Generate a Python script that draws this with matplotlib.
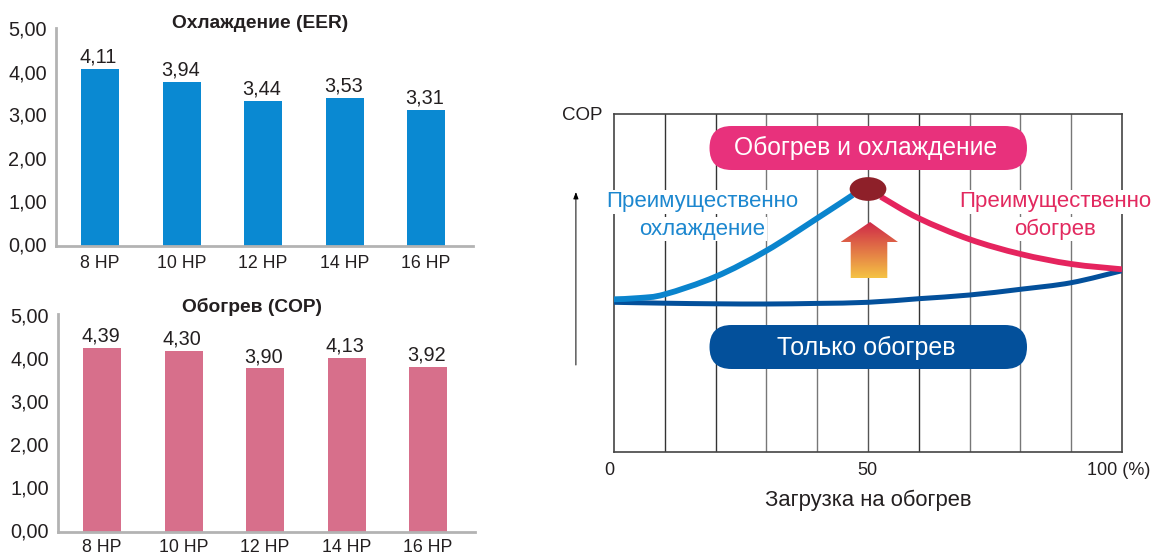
import numpy as np
import matplotlib
matplotlib.use("Agg")
import matplotlib.pyplot as plt
from matplotlib.patches import FancyBboxPatch, Ellipse, Polygon, PathPatch
from matplotlib.path import Path

plt.rcParams['font.family'] = ['Liberation Sans', 'DejaVu Sans']

W, H = 1154, 554
TEXT = '#231f20'

# --- bar charts ---
categories = ['8 HP', '10 HP', '12 HP', '14 HP', '16 HP']
y_ticks = [0, 1, 2, 3, 4, 5]
y_tick_labels = ['0,00', '1,00', '2,00', '3,00', '4,00', '5,00']

# bar heights as drawn (they do not quite follow the printed labels)
eer_heights = [4.11, 3.81, 3.37, 3.44, 3.16]
eer_labels = ['4,11', '3,94', '3,44', '3,53', '3,31']
cop_heights = [4.28, 4.21, 3.81, 4.05, 3.84]
cop_labels = ['4,39', '4,30', '3,90', '4,13', '3,92']

# --- COP curves: load % and height above the bottom of the frame ---
cool_x = [0, 5, 10, 20, 30, 40, 47]
cool_y = [152.7, 154, 157.7, 175.3, 201.3, 233.7, 257]
heat_x = [52.5, 60, 70, 80, 90, 100]
heat_y = [255.3, 233.7, 212.7, 198, 188, 182.7]
only_x = [0, 10, 20, 30, 40, 50, 60, 70, 80, 90, 100]
only_y = [149.7, 148.8, 148.2, 148, 148.6, 149.7, 153.3, 157, 162.7, 169.3, 181.3]
frame_grid = [10, 20, 30, 40, 50, 60, 70, 80, 90]
grid_colors = ['#333333', '#333333', '#777777', '#777777', '#555555',
               '#333333', '#777777', '#777777', '#777777']
load_ticks = ['0', '50', '100 (%)']


def px_axes(left, right, top, bottom):
    # axes from pixel box of the picture
    return plt.gcf().add_axes([left / W, 1 - bottom / H, (right - left) / W, (bottom - top) / H])


def bar_panel(left, right, top, zero, first, heights, labels, color, title, title_x, title_y, xpad):
    ax = px_axes(left, right, top, zero)
    step = 81.5
    ax.set_xlim(-(first - left) / step, (right - first) / step)
    ax.set_ylim(0, (zero - top) / 43)
    xs = np.arange(len(categories))
    ax.bar(xs, heights, width=38 / step, color=color, zorder=2)
    for x, h, lab in zip(xs, heights, labels):
        ax.annotate(lab, (x, h), xytext=(-1, 1.5), textcoords='offset points',
                    ha='center', va='bottom', fontsize=14.3, color=TEXT)
    ax.set_xticks(xs, categories)
    ax.set_yticks(y_ticks, y_tick_labels, va='center')
    ax.tick_params(length=0, labelcolor=TEXT)
    ax.tick_params(axis='y', labelsize=14.3, pad=6.5)
    ax.tick_params(axis='x', labelsize=12.8, pad=xpad)
    for s in ['top', 'right']:
        ax.spines[s].set_visible(False)
    for s in ['left', 'bottom']:
        ax.spines[s].set_color('#b3b3b3')
        ax.spines[s].set_linewidth(2)
    plt.gcf().text(title_x / W, 1 - title_y / H, title, ha='center', va='center',
                   fontsize=13.8, fontweight='bold', color=TEXT)
    return ax


def smooth_curve(ax, xs, ys, color, lw):
    # Catmull-Rom through the read points, as Bezier segments
    pts = np.column_stack([xs, ys]).astype(float)
    verts = [pts[0]]
    codes = [Path.MOVETO]
    for i in range(len(pts) - 1):
        p0 = pts[max(i - 1, 0)]
        p1, p2 = pts[i], pts[i + 1]
        p3 = pts[min(i + 2, len(pts) - 1)]
        verts += [p1 + (p2 - p0) / 6, p2 - (p3 - p1) / 6, p2]
        codes += [Path.CURVE4] * 3
    ax.add_patch(PathPatch(Path(verts, codes), fc='none', ec=color, lw=lw,
                           capstyle='butt', zorder=4))


fig = plt.figure(figsize=(W / 100, H / 100), dpi=100)

bar_panel(56, 473, 28, 245.5, 100, eer_heights, eer_labels, '#0a89d2',
          'Охлаждение (EER)', 260, 24, 6.5)
bar_panel(58, 475, 314, 532, 102, cop_heights, cop_labels, '#d76f8b',
          'Обогрев (COP)', 252, 307, 5)

# --- COP diagram ---
aspect = 5.08
ax = px_axes(614, 1122, 114, 452)
ax.set_xlim(0, 100)
ax.set_ylim(0, 338)
ax.set_xticks([])
ax.set_yticks([])
for s in ax.spines.values():
    s.set_color('#444444')
    s.set_linewidth(1.2)
    s.set_zorder(1)
for g, c in zip(frame_grid, grid_colors):
    ax.axvline(g, color=c, lw=1.0, zorder=1)


def pill(x0, x1, y0, y1, color, label, size, text_y):
    r = 22 / aspect
    box = FancyBboxPatch((x0 + r, y0 + r * aspect), x1 - x0 - 2 * r, y1 - y0 - 2 * r * aspect,
                         boxstyle=f'round,pad={r},rounding_size={r}', mutation_aspect=aspect,
                         fc=color, ec='none', zorder=5)
    ax.add_patch(box)
    ax.text(49.6, text_y, label, color='white', fontsize=size,
            ha='center', va='center', zorder=6)


pill(18.8, 81.3, 282, 326, '#e8317c', 'Обогрев и охлаждение', 17.7, 304.5)
pill(18.8, 81.3, 83, 127, '#03509b', 'Только обогрев', 18, 104.5)

white = dict(fc='white', ec='none', pad=1.0)
blue_txt = '#1c87cf'
red_txt = '#e2295f'
ax.text(17.4, 250, 'Преимущественно', color=blue_txt, fontsize=16, ha='center', va='center', bbox=white, zorder=3)
ax.text(17.4, 223, 'охлаждение', color=blue_txt, fontsize=16, ha='center', va='center', bbox=white, zorder=3)
ax.text(86.9, 250, 'Преимущественно', color=red_txt, fontsize=16, ha='center', va='center', bbox=white, zorder=3, clip_on=False)
ax.text(86.9, 223, 'обогрев', color=red_txt, fontsize=16, ha='center', va='center', bbox=white, zorder=3)

smooth_curve(ax, only_x, only_y, '#03509b', 3.6)
smooth_curve(ax, cool_x, cool_y, '#0a84cd', 4.2)
smooth_curve(ax, heat_x, heat_y, '#e5245e', 4.2)
ax.add_patch(Ellipse((50, 263), 36.7 / aspect, 23.7, fc='#8e2029', ec='none', zorder=5))

# gradient up arrow
arrow = Polygon([(50.4, 230), (55.9, 210), (53.8, 210), (53.8, 174), (46.6, 174), (46.6, 210), (44.6, 210)],
                closed=True, transform=ax.transData, fc='none', ec='none')
ax.add_patch(arrow)
top_c = np.array(matplotlib.colors.to_rgb('#cf2a48'))
bot_c = np.array(matplotlib.colors.to_rgb('#f5c244'))
t = np.linspace(0, 1, 64)[:, None, None]
img = top_c[None, None, :] * (1 - t) + bot_c[None, None, :] * t
im = ax.imshow(img, extent=(44.6, 55.9, 174, 230), aspect='auto', zorder=5)
im.set_clip_path(arrow)
ax.set_xlim(0, 100)
ax.set_ylim(0, 338)

# COP arrow left of the frame
ax.annotate('', xy=(-7.5, 260), xytext=(-7.5, 87), annotation_clip=False,
            arrowprops=dict(arrowstyle='-|>,head_length=0.4,head_width=0.15', color='black', lw=0.7,
                            shrinkA=0, shrinkB=0))

ax.text(-6.2, 336, 'COP', fontsize=13.5, color=TEXT, ha='center', va='center', clip_on=False)
ax.text(-1, -18.5, load_ticks[0], fontsize=13, color=TEXT, ha='center', va='center')
ax.text(49.8, -18.5, load_ticks[1], fontsize=13, color=TEXT, ha='center', va='center')
ax.text(93.1, -18.5, load_ticks[2], fontsize=13, color=TEXT, ha='left', va='center')
ax.text(50, -48, 'Загрузка на обогрев', fontsize=15.8, color=TEXT, ha='center', va='center')

fig.savefig('out.png', dpi=100)
